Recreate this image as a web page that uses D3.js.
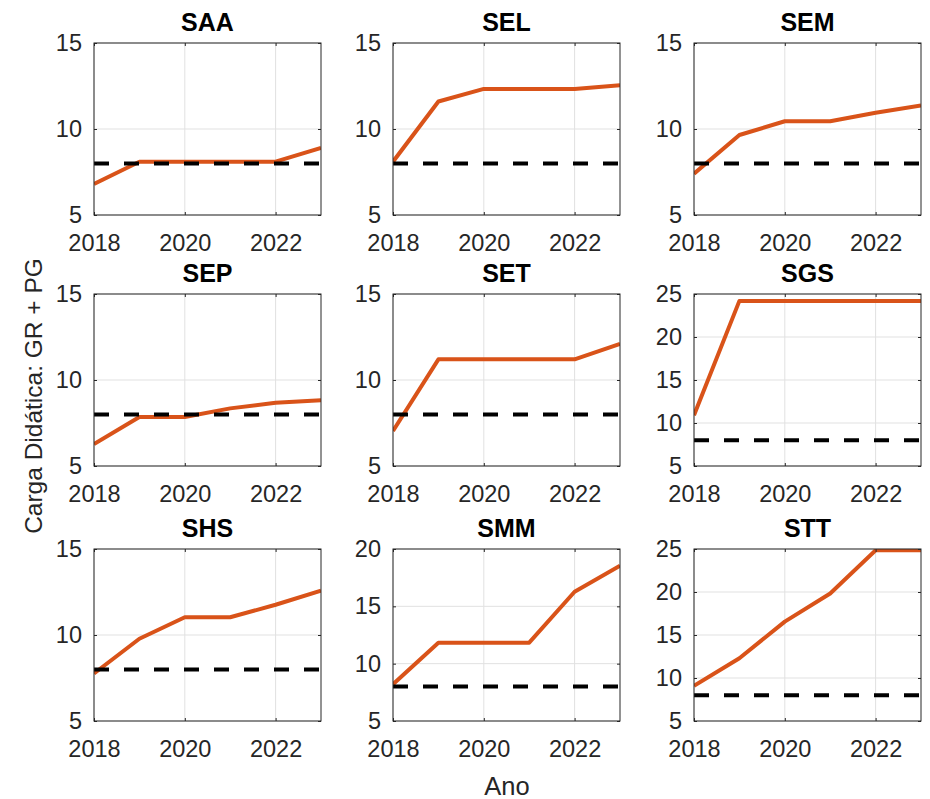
<!DOCTYPE html>
<html>
<head>
<meta charset="utf-8">
<script src="https://cdn.jsdelivr.net/npm/d3@7"></script>
<style>
  body { margin: 0; background: #fff; }
  text { font-family: "Liberation Sans", Arial, sans-serif; }
</style>
</head>
<body>
<script>
const width = 930;
const height = 799;

// data
const years = [2018, 2019, 2020, 2021, 2022, 2023];
const units = ["SAA", "SEL", "SEM", "SEP", "SET", "SGS", "SHS", "SMM", "STT"];
const saa = [6.8, 8.1, 8.1, 8.1, 8.1, 8.9];
const sel = [8.1, 11.6, 12.33, 12.33, 12.33, 12.55];
const sem = [7.4, 9.65, 10.45, 10.45, 10.95, 11.37];
const sep = [6.27, 7.85, 7.85, 8.35, 8.68, 8.83];
const set = [7.04, 11.2, 11.2, 11.2, 11.2, 12.1];
const sgs = [10.9, 24.2, 24.2, 24.2, 24.2, 24.2];
const shs = [7.76, 9.78, 11.03, 11.03, 11.76, 12.58];
const smm = [8.2, 11.83, 11.83, 11.83, 16.27, 18.55];
const stt = [9.1, 12.3, 16.55, 19.83, 24.85, 24.85];
const series = [saa, sel, sem, sep, set, sgs, shs, smm, stt];
const referencia = 8;
const yMax = [15, 15, 15, 15, 15, 25, 15, 20, 25];
const xTicks = [2018, 2020, 2022];

// layout
const colLeft = [94, 393, 694];
const plotW = 227;
const rowTop = [43, 294, 549];
const plotH = 172;

const svg = d3.select("body")
  .append("svg")
  .attr("width", width)
  .attr("height", height);

units.forEach(function(name, i) {
  const col = i % 3;
  const row = Math.floor(i / 3);
  const g = svg.append("g")
    .attr("transform", "translate(" + colLeft[col] + "," + rowTop[row] + ")");

  const x = d3.scaleLinear().domain([2018, 2023]).range([0, plotW]);
  const y = d3.scaleLinear().domain([5, yMax[i]]).range([plotH, 0]);
  const yTicks = d3.range(5, yMax[i] + 1, 5);

  // grid
  g.selectAll(".gx").data(xTicks).enter().append("line")
    .attr("x1", d => x(d)).attr("x2", d => x(d))
    .attr("y1", 0).attr("y2", plotH)
    .attr("stroke", "#e1e1e1").attr("stroke-width", 1);
  g.selectAll(".gy").data(yTicks).enter().append("line")
    .attr("x1", 0).attr("x2", plotW)
    .attr("y1", d => y(d)).attr("y2", d => y(d))
    .attr("stroke", "#e1e1e1").attr("stroke-width", 1);

  const clipId = "clip" + i;
  g.append("clipPath").attr("id", clipId)
    .append("rect").attr("width", plotW).attr("height", plotH);

  const line = d3.line()
    .x((d, j) => x(years[j]))
    .y(d => y(d));

  g.append("path")
    .datum(series[i])
    .attr("clip-path", "url(#" + clipId + ")")
    .attr("d", line)
    .attr("fill", "none")
    .attr("stroke", "#d95319")
    .attr("stroke-width", 4)
    .attr("stroke-linejoin", "round");

  g.append("line")
    .attr("clip-path", "url(#" + clipId + ")")
    .attr("x1", x(2018)).attr("x2", x(2023))
    .attr("y1", y(referencia)).attr("y2", y(referencia))
    .attr("stroke", "#000")
    .attr("stroke-width", 4)
    .attr("stroke-dasharray", "15,15");

  // axes, ticks inside
  g.append("g")
    .attr("transform", "translate(0," + plotH + ")")
    .call(d3.axisBottom(x).tickValues(xTicks).tickFormat(d3.format("d")).tickSizeInner(-3).tickSizeOuter(0).tickPadding(19));
  g.append("g")
    .call(d3.axisTop(x).tickValues(xTicks).tickFormat("").tickSizeInner(-3).tickSizeOuter(0));
  g.append("g")
    .call(d3.axisLeft(y).tickValues(yTicks).tickSizeInner(-3).tickSizeOuter(0).tickPadding(12));
  g.append("g")
    .attr("transform", "translate(" + plotW + ",0)")
    .call(d3.axisRight(y).tickValues(yTicks).tickFormat("").tickSizeInner(-3).tickSizeOuter(0));

  g.selectAll(".domain").remove();
  g.selectAll(".tick line").attr("stroke", "#262626");
  g.selectAll(".tick text")
    .attr("fill", "#262626")
    .style("font-size", "23.5px")
    .style("font-family", "'Liberation Sans', Arial, sans-serif");

  g.append("rect")
    .attr("width", plotW).attr("height", plotH)
    .attr("fill", "none")
    .attr("stroke", "#262626")
    .attr("stroke-width", 1);

  g.append("text")
    .attr("x", plotW / 2)
    .attr("y", -12)
    .attr("text-anchor", "middle")
    .style("font-size", "25px")
    .style("font-weight", "bold")
    .attr("fill", "#000")
    .text(name);
});

svg.append("text")
  .attr("x", 507)
  .attr("y", 795)
  .attr("text-anchor", "middle")
  .attr("fill", "#262626")
  .style("font-size", "25.5px")
  .text("Ano");

svg.append("text")
  .attr("transform", "translate(42,396) rotate(-90)")
  .attr("text-anchor", "middle")
  .attr("fill", "#262626")
  .style("font-size", "24.5px")
  .text("Carga Didática: GR + PG");
</script>
</body>
</html>
